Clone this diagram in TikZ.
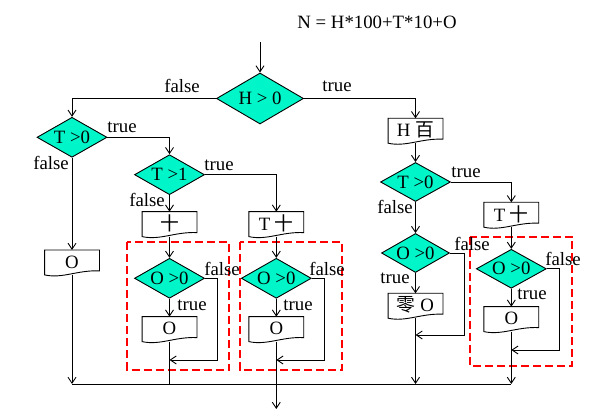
\documentclass[tikz,border=0pt]{standalone}
\usepackage{fontspec}
\setmainfont{Liberation Serif}
\newfontfamily\cjk{Noto Sans CJK SC}
\usetikzlibrary{shapes.geometric,arrows.meta}
\definecolor{mint}{RGB}{0,245,200}
\definecolor{dashred}{RGB}{255,0,0}
\newcommand\docout[1]{\draw[docline] ([yshift=1pt]#1.south west) -- (#1.north west) -- (#1.north east) -- ([yshift=5pt]#1.south east) .. controls ([xshift=-22pt,yshift=6pt]#1.south east) and ([xshift=18pt,yshift=-3pt]#1.south west) .. ([yshift=1pt]#1.south west) -- cycle;}
\begin{document}
\begin{tikzpicture}[x=1pt,y=-1pt,
  font=\fontsize{18.8}{21}\selectfont,
  line width=0.9pt,
  cond/.style={diamond, draw, fill=mint, inner sep=0pt, aspect=2, minimum width=70, minimum height=40},
  docbox/.style={anchor=north, inner sep=0pt, minimum width=54, minimum height=25},
  docline/.style={draw=black, fill=white, line width=0.9pt},
  arr/.style={-{Straight Barb[length=6pt,width=8pt]}},
  lbl/.style={inner sep=0pt},
  redbox/.style={draw=dashred, line width=2pt, dash pattern=on 8pt off 4pt}]
\fill[white] (0,0) rectangle (592,419);
\useasboundingbox (0,0) rectangle (592,419);

% title
\node[lbl] (ttl) at (377,22) {N = H*100+T*10+O};
\coordinate (start) at (260,42);

% red dashed groups
\draw[redbox] (127.3,242.3) rectangle (229.3,370);
\draw[redbox] (240,242.3) rectangle (342.3,370);
\draw[redbox] (470,236.7) rectangle (572.3,365.7);

% decisions
\node[cond, minimum width=87, minimum height=51] (d0) at (260,98.5) {H > 0};
\node[cond] (d1) at (72,137.3) {T >0};
\node[cond] (d2) at (169.5,174.7) {T >1};
\node[cond, minimum height=39] (d3) at (415.5,182) {T >0};
\node[cond] (d4) at (169.5,278.3) {O >0};
\node[cond] (d5) at (276.3,278.3) {O >0};
\node[cond, minimum width=68, minimum height=39] (d6) at (415.5,253) {O >0};
\node[cond, minimum height=39] (d7) at (511.3,268.8) {O >0};

% document boxes
\node[docbox] (bh) at (415.5,118.3) {};
\node[docbox] (bshi) at (169.5,211.7) {};
\node[docbox] (btshi) at (276.3,211.7) {};
\node[docbox] (btshi2) at (511.3,202.3) {};
\node[docbox] (bo0) at (72,250) {};
\node[docbox] (bo1) at (169.5,316.7) {};
\node[docbox] (bo2) at (276.3,316.7) {};
\node[docbox] (bling) at (415.5,293.3) {};
\node[docbox] (bo3) at (511.3,306.7) {};
\docout{bh}\docout{bshi}\docout{btshi}\docout{btshi2}\docout{bo0}
\docout{bo1}\docout{bo2}\docout{bling}\docout{bo3}
\node[lbl] (th) at ([yshift=1pt]bh.center) {H {\cjk 百}};
\node[lbl] (tshi) at ([yshift=1pt]bshi.center) {{\cjk 十}};
\node[lbl] (ttshi) at ([yshift=1pt]btshi.center) {T {\cjk 十}};
\node[lbl] (ttshi2) at ([yshift=1pt]btshi2.center) {T {\cjk 十}};
\node[lbl] (to0) at ([yshift=1pt]bo0.center) {O};
\node[lbl] (to1) at ([yshift=1pt]bo1.center) {O};
\node[lbl] (to2) at ([yshift=1pt]bo2.center) {O};
\node[lbl] (tling) at ([yshift=1pt]bling.center) {{\cjk 零} O};
\node[lbl] (to3) at ([yshift=1pt]bo3.center) {O};

% helper coordinates
\coordinate (f1) at (217.3,360); \coordinate (j1) at (169.5,360);
\coordinate (f2) at (324,360);   \coordinate (j2) at (276.3,360);
\coordinate (f3) at (464.3,335); \coordinate (j3) at (415.5,335);
\coordinate (f4) at (559.3,350); \coordinate (j4) at (511.3,350);
\coordinate (m0) at (72,384); \coordinate (m1) at (169.5,384);
\coordinate (m3) at (415.5,384); \coordinate (m4) at (511.3,384);
\coordinate (out) at (276.3,409);

% connectors
\draw[arr] (start) -- (d0.north);
\draw[arr] (d0.west) -| (d1.north);
\draw[arr] (d0.east) -| (bh.north);
\draw[arr] (d1.east) -| (d2.north);
\draw[arr] (d1.south) -- (bo0.north);
\draw[arr] (d2.east) -| (btshi.north);
\draw[arr] (d2.south) -- (bshi.north);
\draw[arr] ([yshift=1pt]bshi.south) -- (d4.north);
\draw[arr] ([yshift=1pt]btshi.south) -- (d5.north);
\draw[arr] (d4.south) -- (bo1.north);
\draw[arr] (d5.south) -- (bo2.north);
\draw[arr] (d4.east) -| (f1) -- (j1);
\draw[arr] (d5.east) -| (f2) -- (j2);
\draw ([yshift=1pt]bo1.south) -- (m1);
\draw[arr] ([yshift=1pt]bo2.south) -- (out);
\draw[arr] ([yshift=1pt]bh.south) -- (d3.north);
\draw[arr] (d3.east) -| (btshi2.north);
\draw[arr] (d3.south) -- (d6.north);
\draw[arr] (d6.south) -- (bling.north);
\draw[arr] (d6.east) -| (f3) -- (j3);
\draw[arr] ([yshift=1pt]bling.south) -- (m3);
\draw[arr] ([yshift=1pt]btshi2.south) -- (d7.north);
\draw[arr] (d7.south) -- (bo3.north);
\draw[arr] (d7.east) -| (f4) -- (j4);
\draw[arr] ([yshift=1pt]bo3.south) -- (m4);
\draw[arr] ([yshift=1pt]bo0.south) -- (m0);
\draw (m0) -- (m4);

% branch labels
\node[lbl] (lf0) at (182,86) {false};
\node[lbl] (lt0) at (337,86) {true};
\node[lbl] (lt1) at (122,127) {true};
\node[lbl] (lf1) at (51,163) {false};
\node[lbl] (lt2) at (219,165) {true};
\node[lbl] (lf2) at (147,200) {false};
\node[lbl] (lf4) at (222,269) {false};
\node[lbl] (lt4) at (192,305) {true};
\node[lbl] (lf5) at (327,269) {false};
\node[lbl] (lt5) at (298,305) {true};
\node[lbl] (lt3) at (466,172) {true};
\node[lbl] (lf3) at (395,207) {false};
\node[lbl] (lf6) at (472,244) {false};
\node[lbl] (lt6) at (395,278) {true};
\node[lbl] (lf7) at (563,259) {false};
\node[lbl] (lt7) at (532,294) {true};
\end{tikzpicture}
\end{document}
